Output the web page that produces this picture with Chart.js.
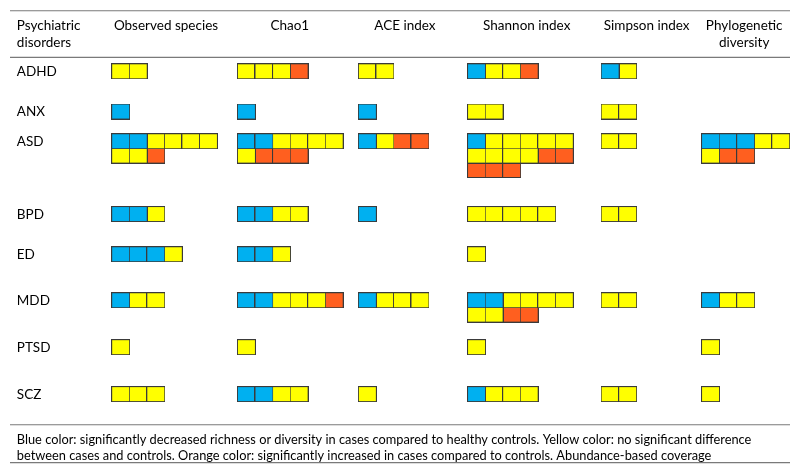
<!DOCTYPE html>
<html>
<head>
<meta charset="utf-8">
<script src="https://cdn.jsdelivr.net/npm/chart.js@4.4.1/dist/chart.umd.min.js"></script>
<style>
  html, body { margin: 0; padding: 0; background: #fff; }
  canvas { display: block; }
</style>
</head>
<body>
<canvas id="myChart" width="800" height="474"></canvas>
<script>
// rows and columns of the table
var disorders = ['ADHD', 'ANX', 'ASD', 'BPD', 'ED', 'MDD', 'PTSD', 'SCZ'];
var metrics = ['Observed species', 'Chao1', 'ACE index', 'Shannon index', 'Simpson index', 'Phylogenetic diversity'];

// one string per disorder, one letter per study
// B = decreased, Y = no difference, O = increased
var observed = ['YY', 'B', 'BBYYYYYYO', 'BBY', 'BBBY', 'BYY', 'Y', 'YYY'];
var chao1 = ['YYYO', 'B', 'BBYYYYYOOO', 'BBYY', 'BBY', 'BBYYYO', 'Y', 'BBYY'];
var ace = ['YY', 'B', 'BYOO', 'B', '', 'BYYY', '', 'Y'];
var shannon = ['BYYO', 'YY', 'BYYYYYYYYYOOOOO', 'YYYYY', 'Y', 'BBYYYYYYOO', 'Y', 'BYYY'];
var simpson = ['BY', 'YY', 'YY', 'YY', '', 'YY', '', 'YY'];
var phylo = ['', '', 'BBBYYYOO', '', '', 'BYY', 'Y', 'Y'];

var footnote = [
  'Blue color: significantly decreased richness or diversity in cases compared to healthy controls. Yellow color: no significant difference',
  'between cases and controls. Orange color: significantly increased in cases compared to controls. Abundance-based coverage'
];

// layout (in px, the scales run 0..800 / 0..474)
var colLeft = [104, 233, 357, 469, 606, 709];
var colCenter = [160, 287, 405, 530, 653, 753];
var colWrap = [6, 6, 6, 6, 6, 5];
var rowTop = [56, 98, 129, 205, 247, 295, 344, 393];
var cellW = 18, cellH = 15;

var colors = { B: '#00B0F0', Y: '#FFFF00', O: '#FF5F1F' };

function makeCell(fill) {
  var c = document.createElement('canvas');
  c.width = cellW + 1;
  c.height = cellH + 1;
  var g = c.getContext('2d');
  g.fillStyle = fill;
  g.fillRect(0, 0, cellW + 1, cellH + 1);
  g.strokeStyle = '#3a3a3a';
  g.lineWidth = 1;
  g.strokeRect(0.5, 0.5, cellW, cellH);
  return c;
}

var allMetrics = [observed, chao1, ace, shannon, simpson, phylo];
var points = { B: [], Y: [], O: [] };
allMetrics.forEach(function (list, c) {
  list.forEach(function (codes, r) {
    for (var k = 0; k < codes.length; k++) {
      var col = k % colWrap[c];
      var line = Math.floor(k / colWrap[c]);
      points[codes[k]].push({
        x: colLeft[c] + col * cellW + (cellW + 1) / 2,
        y: rowTop[r] + line * cellH + (cellH + 1) / 2
      });
    }
  });
});

var textFont = '13.5px Lato';

var tablePlugin = {
  id: 'tableText',
  beforeDatasetsDraw: function (chart) {
    var ctx = chart.ctx;
    var xs = chart.scales.x, ys = chart.scales.y;
    ctx.save();
    // rules
    ctx.strokeStyle = '#7a7a7a';
    ctx.lineWidth = 1.2;
    [0.8, 49.5, 433, 472.5].forEach(function (v) {
      var py = ys.getPixelForValue(v);
      ctx.beginPath();
      ctx.moveTo(xs.left, py);
      ctx.lineTo(xs.right, py);
      ctx.stroke();
    });
    ctx.fillStyle = '#000';
    ctx.font = textFont;
    ctx.textBaseline = 'middle';
    // header
    ctx.textAlign = 'left';
    ctx.fillText('Psychiatric', xs.getPixelForValue(7), ys.getPixelForValue(16));
    ctx.fillText('disorders', xs.getPixelForValue(7), ys.getPixelForValue(34));
    ctx.textAlign = 'center';
    metrics.forEach(function (m, i) {
      var x = xs.getPixelForValue(colCenter[i]);
      if (m === 'Phylogenetic diversity') {
        ctx.fillText('Phylogenetic', x, ys.getPixelForValue(16));
        ctx.fillText('diversity', x, ys.getPixelForValue(34));
      } else {
        ctx.fillText(m, x, ys.getPixelForValue(16));
      }
    });
    // row labels
    ctx.textAlign = 'left';
    disorders.forEach(function (d, r) {
      ctx.fillText(d, xs.getPixelForValue(7), ys.getPixelForValue(rowTop[r] + 8.5));
    });
    // footnote
    ctx.font = '12.8px Lato';
    ctx.fillText(footnote[0], xs.getPixelForValue(7), ys.getPixelForValue(449));
    ctx.fillText(footnote[1], xs.getPixelForValue(7), ys.getPixelForValue(466));
    ctx.restore();
  }
};

var ctx = document.getElementById('myChart');
var myChart = new Chart(ctx, {
  type: 'scatter',
  data: {
    datasets: [
      { label: 'Decreased', data: points.B, pointStyle: makeCell(colors.B), pointRadius: 9, clip: false },
      { label: 'No difference', data: points.Y, pointStyle: makeCell(colors.Y), pointRadius: 9, clip: false },
      { label: 'Increased', data: points.O, pointStyle: makeCell(colors.O), pointRadius: 9, clip: false }
    ]
  },
  options: {
    responsive: false,
    animation: false,
    events: [],
    layout: { padding: 0 },
    plugins: { legend: { display: false }, tooltip: { enabled: false } },
    scales: {
      x: { type: 'linear', min: 0, max: 800, display: false },
      y: { type: 'linear', min: 0, max: 474, reverse: true, display: false }
    }
  },
  plugins: [tablePlugin]
});
</script>
</body>
</html>
